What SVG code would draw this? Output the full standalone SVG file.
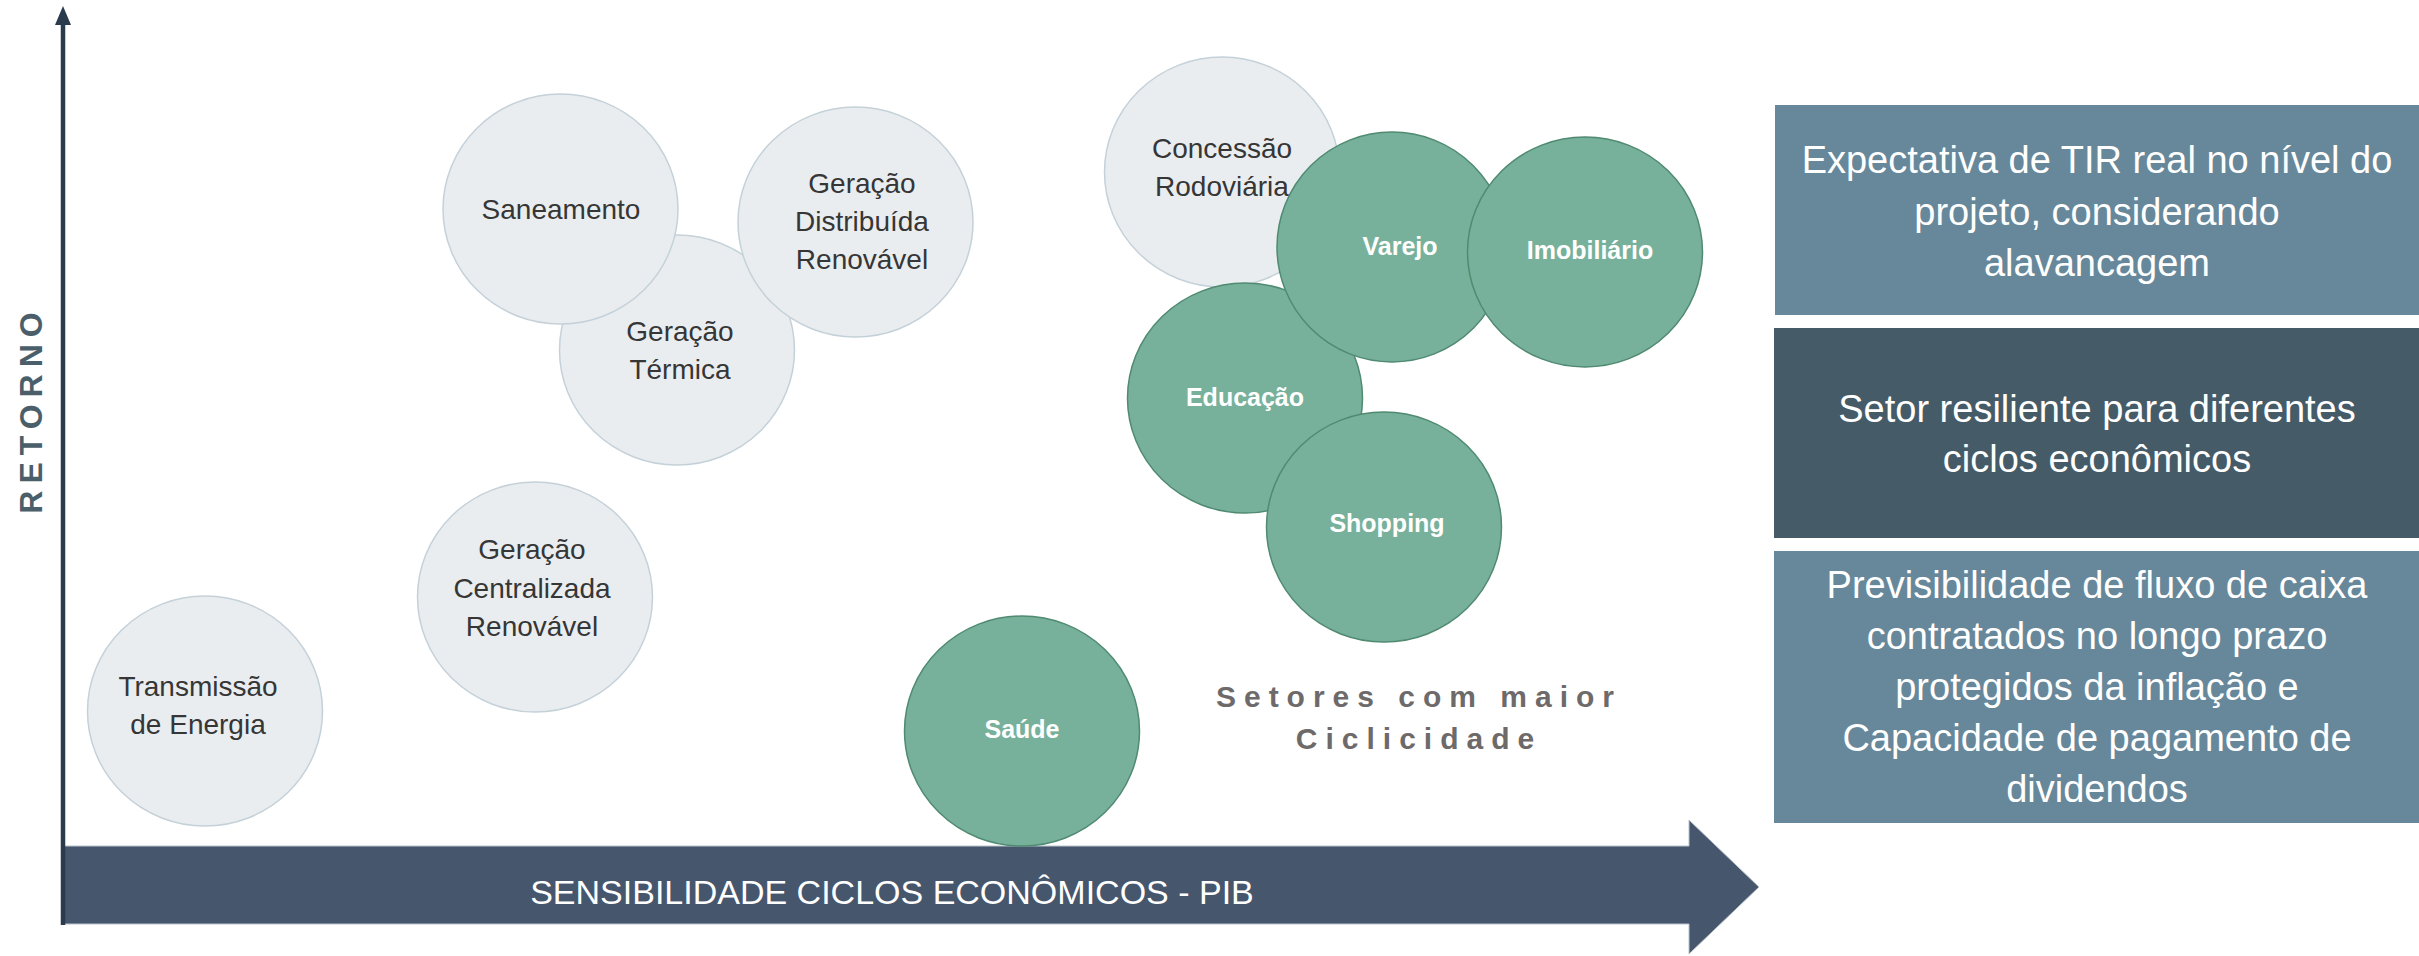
<svg xmlns="http://www.w3.org/2000/svg" width="2419" height="956" viewBox="0 0 2419 956">
<style>
.g{fill:#e9edf0;stroke:#c5d1d9;stroke-width:1.5}
.v{fill:#78b19b;stroke:#4f8a71;stroke-width:1.5}
.gt{font-family:"Liberation Sans",Arial,sans-serif;font-size:28px;fill:#363636;text-anchor:middle}
.vt{font-family:"Liberation Sans",Arial,sans-serif;font-size:25px;font-weight:bold;fill:#ffffff;text-anchor:middle}
.bt{font-family:"Liberation Sans",Arial,sans-serif;font-size:38px;fill:#ffffff;text-anchor:middle}
</style>
<rect width="2419" height="956" fill="#ffffff"/>
<g id="connectors">
<path d="M64,846 L1689,846 L1689,820 L1759,887 L1689,954 L1689,924 L64,924 Z" fill="#46566d" stroke="#b9c3cc" stroke-width="1"/>
<text x="892" y="904" font-family="&quot;Liberation Sans&quot;,Arial,sans-serif" font-size="34" fill="#ffffff" text-anchor="middle">SENSIBILIDADE CICLOS ECONÔMICOS - PIB</text>
<line x1="63" y1="22" x2="63" y2="925" stroke="#2b3b4e" stroke-width="4.5"/>
<polygon points="55,25 63,6 71,25" fill="#2b3b4e"/>
<text transform="translate(42,409.5) rotate(-90)" font-family="&quot;Liberation Sans&quot;,Arial,sans-serif" font-size="32" font-weight="bold" fill="#4b5f6b" letter-spacing="7" text-anchor="middle">RETORNO</text>
</g>
<g id="transmissao">
<ellipse class="g" cx="205" cy="711" rx="117.5" ry="115"/>
<text class="gt" x="198" y="696">Transmissão</text>
<text class="gt" x="198" y="734">de Energia</text>
</g>
<g id="centralizada">
<ellipse class="g" cx="535" cy="597" rx="117.5" ry="115"/>
<text class="gt" x="532" y="559">Geração</text>
<text class="gt" x="532" y="598">Centralizada</text>
<text class="gt" x="532" y="636">Renovável</text>
</g>
<g id="termica">
<ellipse class="g" cx="677" cy="350" rx="117.5" ry="115"/>
<text class="gt" x="680" y="341">Geração</text>
<text class="gt" x="680" y="379">Térmica</text>
</g>
<g id="saneamento">
<ellipse class="g" cx="560.5" cy="209" rx="117.5" ry="115"/>
<text class="gt" x="561" y="219">Saneamento</text>
</g>
<g id="distribuida">
<ellipse class="g" cx="855.5" cy="222" rx="117.5" ry="115"/>
<text class="gt" x="862" y="193">Geração</text>
<text class="gt" x="862" y="231">Distribuída</text>
<text class="gt" x="862" y="269">Renovável</text>
</g>
<g id="concessao">
<ellipse class="g" cx="1222" cy="172" rx="117.5" ry="115"/>
<text class="gt" x="1222" y="158">Concessão</text>
<text class="gt" x="1222" y="196">Rodoviária</text>
</g>
<g id="saude">
<ellipse class="v" cx="1022" cy="731" rx="117.5" ry="115"/>
<text class="vt" x="1022" y="738">Saúde</text>
</g>
<g id="educacao">
<ellipse class="v" cx="1245" cy="398" rx="117.5" ry="115"/>
<text class="vt" x="1245" y="406">Educação</text>
</g>
<g id="varejo">
<ellipse class="v" cx="1392" cy="247" rx="115" ry="115"/>
<text class="vt" x="1400" y="255">Varejo</text>
</g>
<g id="imobiliario">
<ellipse class="v" cx="1585" cy="252" rx="117.5" ry="115"/>
<text class="vt" x="1590" y="259">Imobiliário</text>
</g>
<g id="shopping">
<ellipse class="v" cx="1384" cy="527" rx="117.5" ry="115"/>
<text class="vt" x="1387" y="532">Shopping</text>
</g>
<g id="ciclicidade">
<text x="1419" y="707" font-family="&quot;Liberation Sans&quot;,Arial,sans-serif" font-size="30" font-weight="bold" fill="#6e6a6a" letter-spacing="8" text-anchor="middle">Setores com maior</text>
<text x="1419" y="749" font-family="&quot;Liberation Sans&quot;,Arial,sans-serif" font-size="30" font-weight="bold" fill="#6e6a6a" letter-spacing="8" text-anchor="middle">Ciclicidade</text>
</g>
<g id="box-tir">
<rect x="1775" y="105" width="644" height="210" fill="#67889a"/>
<text class="bt" x="2097" y="173">Expectativa de TIR real no nível do</text>
<text class="bt" x="2097" y="225">projeto, considerando</text>
<text class="bt" x="2097" y="276">alavancagem</text>
</g>
<g id="box-resiliente">
<rect x="1774" y="328" width="645" height="210" fill="#455b67"/>
<text class="bt" x="2097" y="422">Setor resiliente para diferentes</text>
<text class="bt" x="2097" y="472">ciclos econômicos</text>
</g>
<g id="box-previsibilidade">
<rect x="1774" y="551" width="645" height="272" fill="#67889a"/>
<text class="bt" x="2097" y="598">Previsibilidade de fluxo de caixa</text>
<text class="bt" x="2097" y="649">contratados no longo prazo</text>
<text class="bt" x="2097" y="700">protegidos da inflação e</text>
<text class="bt" x="2097" y="751">Capacidade de pagamento de</text>
<text class="bt" x="2097" y="802">dividendos</text>
</g>
</svg>
